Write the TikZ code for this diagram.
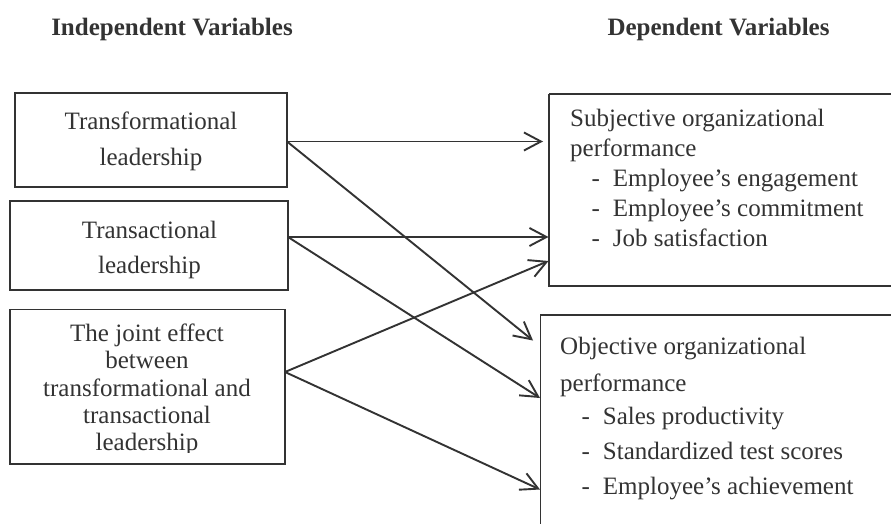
\documentclass[tikz,border=0pt]{standalone}
\usepackage{fontspec}
\setmainfont{Liberation Serif}
\usetikzlibrary{arrows.meta}
\definecolor{inkc}{HTML}{333333}
\begin{document}
\begin{tikzpicture}[x=1pt,y=-1pt,
  frame/.style={draw=inkc, line width=1.8pt},
  txt/.style={font=\fontsize{25}{30}\selectfont, text=inkc, inner sep=0pt},
  head/.style={txt, font=\fontsize{25}{30}\selectfont\bfseries},
  arr/.style={draw=inkc, line width=1.9pt,
    -{Straight Barb[length=17pt,width=18pt,line width=1.9pt]}}]
\useasboundingbox (0,0) rectangle (891,524);
\clip (0,0) rectangle (891,524);
\fill[white] (0,0) rectangle (891,524);

% column headings
\node[head, anchor=base] (hi) at (172,36) {Independent Variables};
\node[head, anchor=base] (hd) at (718.5,36) {Dependent Variables};

% independent variable boxes
\draw[frame] (15,93) rectangle (287,187);
\draw[frame] (10,201) rectangle (288,290);
\draw[frame] (10,309.5) rectangle (285,464);
\node[txt, anchor=base] (l1a) at (151,130) {Transformational};
\node[txt, anchor=base] (l1b) at (151,165) {leadership};
\node[txt, anchor=base] (l2a) at (149.5,238.5) {Transactional};
\node[txt, anchor=base] (l2b) at (149.5,273.5) {leadership};
\node[txt, anchor=base] (l3a) at (147,341.7) {The joint effect};
\node[txt, anchor=base] (l3b) at (147,368.3) {between};
\node[txt, anchor=base] (l3c) at (147,396.7) {transformational and};
\node[txt, anchor=base] (l3d) at (147,423.3) {transactional};
\begin{scope}
  \clip (10,300) rectangle (285,452);
  \node[txt, anchor=base] (l3e) at (147,450) {leadership};
\end{scope}

% dependent variable boxes (they run past the right and lower edges)
\draw[frame] (549,94) -- (900,94) (549,94) -- (549,286) -- (900,286);
\draw[frame] (540.5,540) -- (540.5,315) -- (900,315);

\node[txt, anchor=base west] (sa) at (570,126.7) {Subjective organizational};
\node[txt, anchor=base west] (sb) at (570,156.7) {performance};
\node[txt, anchor=base west] (sc0) at (591.5,186.7) {-};
\node[txt, anchor=base west] (sc) at (612.7,186.7) {Employee’s engagement};
\node[txt, anchor=base west] (sd0) at (591.5,216.7) {-};
\node[txt, anchor=base west] (sd) at (612.7,216.7) {Employee’s commitment};
\node[txt, anchor=base west] (se0) at (591.5,246.7) {-};
\node[txt, anchor=base west] (se) at (612.7,246.7) {Job satisfaction};

\node[txt, anchor=base west] (oa) at (560,354) {Objective organizational};
\node[txt, anchor=base west] (ob) at (560,391) {performance};
\node[txt, anchor=base west] (oc0) at (581.5,424.5) {-};
\node[txt, anchor=base west] (oc) at (602.7,424.5) {Sales productivity};
\node[txt, anchor=base west] (od0) at (581.5,459.5) {-};
\node[txt, anchor=base west] (od) at (602.7,459.5) {Standardized test scores};
\node[txt, anchor=base west] (oe0) at (581.5,494.3) {-};
\node[txt, anchor=base west] (oe) at (602.7,494.3) {Employee’s achievement};

% connector end points
\coordinate (p1) at (287,141.5);
\coordinate (p2) at (288,237);
\coordinate (p3) at (285,372);
\coordinate (q1) at (543,141.5);
\coordinate (q2) at (548.5,237);
\coordinate (q3) at (548.5,261);
\coordinate (r1) at (533,340.5);
\coordinate (r2) at (540,398);
\coordinate (r3) at (540,489.5);

\draw[arr] (p1) -- (q1);
\draw[arr] (p1) -- (r1);
\draw[arr] (p2) -- (q2);
\draw[arr] (p2) -- (r2);
\draw[arr] (p3) -- (q3);
\draw[arr] (p3) -- (r3);
\end{tikzpicture}
\end{document}
